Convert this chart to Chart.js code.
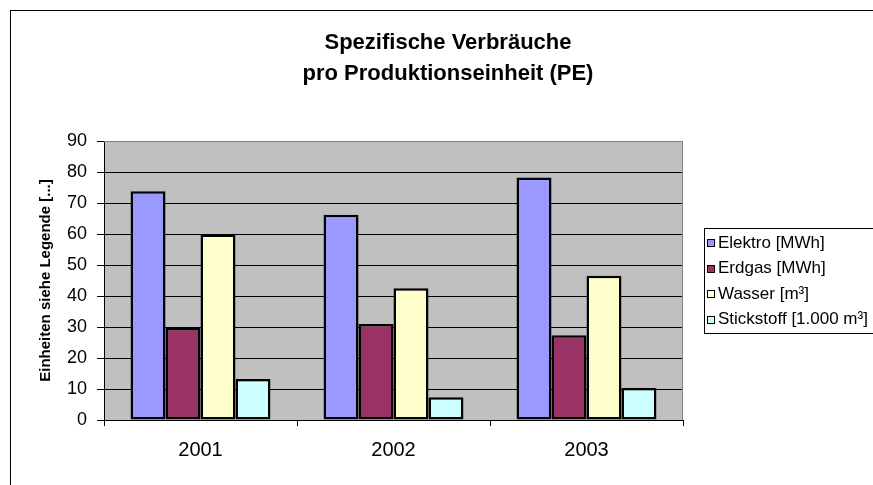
<!DOCTYPE html>
<html>
<head>
<meta charset="utf-8">
<script src="https://cdn.jsdelivr.net/npm/chart.js@4"></script>
<style>
  html, body { margin: 0; padding: 0; background: #fff; }
  canvas { display: block; }
</style>
</head>
<body>
<canvas id="chart" width="873" height="485"></canvas>
<script>
// data
const years = ['2001', '2002', '2003'];
const elektro = [73.8, 66.2, 78.2];
const erdgas = [29.7, 31.0, 27.3];
const wasser = [59.8, 42.5, 46.5];
const stickstoff = [13.2, 7.3, 10.3];
const seriesNames = ['Elektro [MWh]', 'Erdgas [MWh]', 'Wasser [m³]', 'Stickstoff [1.000 m³]'];
const titleLines = ['Spezifische Verbräuche', 'pro Produktionseinheit (PE)'];
const yTitle = 'Einheiten siehe Legende [...]';

const chartFont = "'Liberation Sans', Arial, sans-serif";
const colors = ['#9999FF', '#993366', '#FFFFCC', '#CCFFFF'];

// background, frame, title and legend in Excel style
const excelLook = {
    id: 'excelLook',
    beforeDraw(chart) {
        const { ctx, chartArea: a } = chart;
        ctx.save();
        ctx.fillStyle = '#C0C0C0';
        ctx.fillRect(a.left, a.top, a.right - a.left, a.bottom - a.top);
        ctx.restore();
    },
    afterDraw(chart) {
        const { ctx, chartArea: a } = chart;
        ctx.save();
        // outer frame (runs off the page on right and bottom)
        ctx.strokeStyle = '#000';
        ctx.lineWidth = 1;
        ctx.strokeRect(10.5, 10.5, 900, 500);

        // plot area frame top/right
        ctx.strokeStyle = '#808080';
        ctx.beginPath();
        ctx.moveTo(a.left, a.top + 0.5);
        ctx.lineTo(a.right - 0.5, a.top + 0.5);
        ctx.lineTo(a.right - 0.5, a.bottom);
        ctx.stroke();

        // title
        ctx.fillStyle = '#000';
        ctx.font = 'bold 22px ' + chartFont;
        ctx.textAlign = 'center';
        ctx.textBaseline = 'middle';
        titleLines.forEach((t, i) => ctx.fillText(t, 448, 43 + i * 31));

        // legend
        ctx.strokeStyle = '#000';
        ctx.strokeRect(704.5, 228.5, 200, 105);
        ctx.font = '17px ' + chartFont;
        ctx.textAlign = 'left';
        chart.data.datasets.forEach((ds, i) => {
            const y = 243 + i * 25.5;
            ctx.fillStyle = ds.backgroundColor;
            ctx.fillRect(707, Math.round(y) - 4, 8, 8);
            ctx.strokeStyle = '#000';
            ctx.strokeRect(707.5, Math.round(y) - 3.5, 7, 7);
            ctx.fillStyle = '#000';
            ctx.fillText(ds.label, 718, y);
        });
        ctx.restore();
    }
};

const seriesData = [elektro, erdgas, wasser, stickstoff];

new Chart(document.getElementById('chart'), {
    type: 'bar',
    data: {
        labels: years,
        datasets: seriesNames.map((name, i) => ({
            label: name,
            data: seriesData[i],
            backgroundColor: colors[i],
            borderColor: '#000',
            borderWidth: 2.5,
            borderSkipped: false,
            categoryPercentage: 0.725,
            barPercentage: 1
        }))
    },
    options: {
        responsive: false,
        animation: false,
        layout: { padding: { top: 141, right: 190, bottom: 0, left: 0 } },
        scales: {
            x: {
                grid: {
                    drawOnChartArea: false,
                    drawTicks: true,
                    tickLength: 6,
                    color: '#000',
                    offset: true
                },
                border: { color: '#000' },
                ticks: {
                    color: '#000',
                    font: { family: chartFont, size: 20 },
                    padding: 12
                },
                afterFit(scale) { scale.height = 65; }
            },
            y: {
                min: 0,
                max: 90,
                ticks: {
                    stepSize: 10,
                    color: '#000',
                    font: { family: chartFont, size: 18 },
                    padding: 10
                },
                grid: {
                    color: (c) => (c.tick && c.tick.value === 90 ? '#808080' : '#000'),
                    tickColor: '#000',
                    tickLength: 7
                },
                border: { color: '#000' },
                title: {
                    display: true,
                    text: yTitle,
                    color: '#000',
                    font: { family: chartFont, size: 15, weight: 'bold' },
                    padding: { top: 37, bottom: 0 }
                },
                afterFit(scale) { scale.width = 104; }
            }
        },
        plugins: {
            legend: { display: false },
            title: { display: false },
            tooltip: { enabled: false }
        }
    },
    plugins: [excelLook]
});
</script>
</body>
</html>
